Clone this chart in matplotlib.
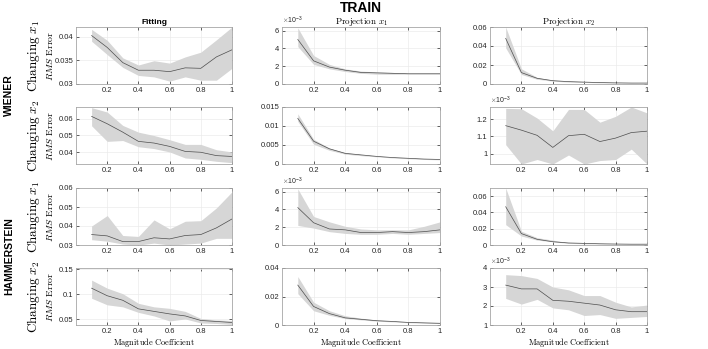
import numpy as np
import matplotlib.pyplot as plt
from matplotlib.ticker import FuncFormatter

plt.rcParams['font.family'] = ['Liberation Sans', 'DejaVu Sans']
plt.rcParams['mathtext.fontset'] = 'cm'

coef = [0.1, 0.2, 0.3, 0.4, 0.5, 0.6, 0.7, 0.8, 0.9, 1.0]

# each panel: mean, upper, lower (rows: Wiener x1, Wiener x2, Hammerstein x1, Hammerstein x2)
w1_fit_mean = [0.0402, 0.0377, 0.0345, 0.0329, 0.0329, 0.0326, 0.0334, 0.0333, 0.0357, 0.0372]
w1_fit_up = [0.0415, 0.0392, 0.0355, 0.0340, 0.0349, 0.0344, 0.0357, 0.0367, 0.0393, 0.0420]
w1_fit_lo = [0.0390, 0.0362, 0.0335, 0.0318, 0.0315, 0.0306, 0.0315, 0.0308, 0.0308, 0.0333]

w1_p1_mean = [5.0e-3, 2.6e-3, 1.9e-3, 1.55e-3, 1.3e-3, 1.25e-3, 1.2e-3, 1.15e-3, 1.15e-3, 1.15e-3]
w1_p1_up = [6.3e-3, 3.2e-3, 2.2e-3, 1.7e-3, 1.45e-3, 1.35e-3, 1.3e-3, 1.2e-3, 1.2e-3, 1.2e-3]
w1_p1_lo = [4.2e-3, 2.2e-3, 1.7e-3, 1.4e-3, 1.2e-3, 1.1e-3, 1.1e-3, 1.1e-3, 1.1e-3, 1.1e-3]

w1_p2_mean = [0.048, 0.012, 0.006, 0.0035, 0.0025, 0.002, 0.0015, 0.0012, 0.001, 0.001]
w1_p2_up = [0.060, 0.016, 0.007, 0.004, 0.003, 0.0025, 0.002, 0.0015, 0.0013, 0.0012]
w1_p2_lo = [0.038, 0.010, 0.005, 0.003, 0.002, 0.0017, 0.0012, 0.001, 0.0008, 0.0008]

w2_fit_mean = [0.0614, 0.0570, 0.0520, 0.0465, 0.0455, 0.0435, 0.0405, 0.0400, 0.0380, 0.0375]
w2_fit_up = [0.0666, 0.0640, 0.0560, 0.0520, 0.0500, 0.0475, 0.0447, 0.0447, 0.0415, 0.0402]
w2_fit_lo = [0.0558, 0.0465, 0.0470, 0.0433, 0.0422, 0.0402, 0.0366, 0.0358, 0.0346, 0.0338]

w2_p1_mean = [0.0120, 0.0060, 0.0040, 0.0028, 0.0024, 0.0020, 0.0017, 0.0015, 0.0013, 0.0012]
w2_p1_up = [0.0132, 0.0065, 0.0042, 0.0030, 0.0025, 0.0021, 0.0018, 0.0016, 0.0014, 0.0013]
w2_p1_lo = [0.0112, 0.0052, 0.0036, 0.0026, 0.0022, 0.0019, 0.0016, 0.0014, 0.0012, 0.0011]

w2_p2_mean = [1.162e-3, 1.136e-3, 1.106e-3, 1.036e-3, 1.104e-3, 1.112e-3, 1.070e-3, 1.090e-3, 1.122e-3, 1.130e-3]
w2_p2_up = [1.262e-3, 1.260e-3, 1.206e-3, 1.132e-3, 1.256e-3, 1.256e-3, 1.182e-3, 1.216e-3, 1.270e-3, 1.236e-3]
w2_p2_lo = [1.052e-3, 0.940e-3, 0.966e-3, 0.940e-3, 0.992e-3, 0.940e-3, 0.960e-3, 0.966e-3, 1.026e-3, 0.940e-3]

h1_fit_mean = [0.0355, 0.0348, 0.0318, 0.0318, 0.0338, 0.0332, 0.0350, 0.0355, 0.0390, 0.0437]
h1_fit_up = [0.0400, 0.0455, 0.0350, 0.0345, 0.0432, 0.0385, 0.0425, 0.0428, 0.0495, 0.0580]
h1_fit_lo = [0.0328, 0.0320, 0.0305, 0.0300, 0.0310, 0.0300, 0.0305, 0.0310, 0.0335, 0.0335]

h1_p1_mean = [4.2e-3, 2.5e-3, 1.8e-3, 1.7e-3, 1.4e-3, 1.4e-3, 1.5e-3, 1.4e-3, 1.5e-3, 1.7e-3]
h1_p1_up = [6.3e-3, 3.2e-3, 2.6e-3, 2.1e-3, 1.8e-3, 1.7e-3, 1.7e-3, 1.7e-3, 2.1e-3, 2.6e-3]
h1_p1_lo = [2.2e-3, 1.9e-3, 1.5e-3, 1.3e-3, 1.2e-3, 1.2e-3, 1.3e-3, 1.2e-3, 1.3e-3, 1.4e-3]

h1_p2_mean = [0.047, 0.014, 0.007, 0.004, 0.0025, 0.002, 0.0015, 0.0012, 0.001, 0.001]
h1_p2_up = [0.070, 0.017, 0.009, 0.006, 0.003, 0.0025, 0.002, 0.0015, 0.0013, 0.0012]
h1_p2_lo = [0.025, 0.011, 0.006, 0.004, 0.002, 0.0015, 0.0012, 0.001, 0.0008, 0.0008]

h2_fit_mean = [0.112, 0.097, 0.088, 0.071, 0.066, 0.061, 0.057, 0.048, 0.046, 0.044]
h2_fit_up = [0.128, 0.112, 0.101, 0.082, 0.075, 0.072, 0.066, 0.052, 0.049, 0.048]
h2_fit_lo = [0.092, 0.079, 0.075, 0.064, 0.057, 0.047, 0.051, 0.043, 0.042, 0.040]

h2_p1_mean = [0.028, 0.013, 0.008, 0.005, 0.004, 0.003, 0.0025, 0.0018, 0.0015, 0.0012]
h2_p1_up = [0.034, 0.016, 0.010, 0.0065, 0.0048, 0.0036, 0.0028, 0.0021, 0.0018, 0.0017]
h2_p1_lo = [0.022, 0.010, 0.0068, 0.0045, 0.0036, 0.0027, 0.0022, 0.0016, 0.0013, 0.0010]

h2_p2_mean = [3.1e-3, 2.9e-3, 2.9e-3, 2.3e-3, 2.25e-3, 2.15e-3, 2.05e-3, 1.8e-3, 1.7e-3, 1.7e-3]
h2_p2_up = [3.65e-3, 3.6e-3, 3.45e-3, 3.0e-3, 2.85e-3, 2.55e-3, 2.55e-3, 2.2e-3, 1.95e-3, 2.05e-3]
h2_p2_lo = [2.4e-3, 2.1e-3, 2.35e-3, 1.9e-3, 1.8e-3, 1.5e-3, 1.55e-3, 1.35e-3, 1.4e-3, 1.45e-3]

col_titles = ['Fitting', r'$\mathrm{Projection}\ x_1$', r'$\mathrm{Projection}\ x_2$']
row_labels = [r'$\mathrm{Changing}\ x_1$', r'$\mathrm{Changing}\ x_2$',
              r'$\mathrm{Changing}\ x_1$', r'$\mathrm{Changing}\ x_2$']
group_labels = ['WIENER', 'HAMMERSTEIN']

panels = [
    [(w1_fit_mean, w1_fit_up, w1_fit_lo), (w1_p1_mean, w1_p1_up, w1_p1_lo), (w1_p2_mean, w1_p2_up, w1_p2_lo)],
    [(w2_fit_mean, w2_fit_up, w2_fit_lo), (w2_p1_mean, w2_p1_up, w2_p1_lo), (w2_p2_mean, w2_p2_up, w2_p2_lo)],
    [(h1_fit_mean, h1_fit_up, h1_fit_lo), (h1_p1_mean, h1_p1_up, h1_p1_lo), (h1_p2_mean, h1_p2_up, h1_p2_lo)],
    [(h2_fit_mean, h2_fit_up, h2_fit_lo), (h2_p1_mean, h2_p1_up, h2_p1_lo), (h2_p2_mean, h2_p2_up, h2_p2_lo)],
]

# axis settings per panel: (ylim, yticks, scale)
axis_cfg = [
    [((0.03, 0.042), [0.03, 0.035, 0.04], 1), ((0, 6.4), [0, 2, 4, 6], 1e-3), ((0, 0.06), [0, 0.02, 0.04, 0.06], 1)],
    [((0.033, 0.067), [0.04, 0.05, 0.06], 1), ((0, 0.015), [0, 0.005, 0.01, 0.015], 1), ((0.94, 1.27), [1, 1.1, 1.2], 1e-3)],
    [((0.03, 0.06), [0.03, 0.04, 0.05, 0.06], 1), ((0, 6.4), [0, 2, 4, 6], 1e-3), ((0, 0.07), [0, 0.02, 0.04, 0.06], 1)],
    [((0.039, 0.152), [0.05, 0.1, 0.15], 1), ((0, 0.04), [0, 0.02, 0.04], 1), ((1, 4), [1, 2, 3, 4], 1e-3)],
]

W, H = 708, 349
fig = plt.figure(figsize=(W / 100, H / 100), dpi=100)

col_left = [76, 282, 490]
col_w = [156, 158, 157]
row_top = [27, 107, 188, 268]
row_h = 57

fmt = FuncFormatter(lambda v, p: '%g' % round(v, 6))
band_col = '#d6d6d6'
line_col = '#4d4d4d'
spine_col = '#a6a6a6'

for r in range(4):
    for c in range(3):
        rect = [col_left[c] / W, 1 - (row_top[r] + row_h) / H, col_w[c] / W, row_h / H]
        ax = fig.add_axes(rect)
        mean, up, lo = panels[r][c]
        ylim, yt, scale = axis_cfg[r][c]
        ax.fill_between(coef, np.array(lo) / scale, np.array(up) / scale,
                        color=band_col, linewidth=0)
        ax.plot(coef, np.array(mean) / scale, color=line_col, linewidth=0.5)
        ax.set_xlim(0, 1)
        ax.set_ylim(*ylim)
        ax.set_xticks([0.2, 0.4, 0.6, 0.8, 1])
        ax.set_yticks(yt)
        ax.xaxis.set_major_formatter(fmt)
        ax.yaxis.set_major_formatter(fmt)
        ax.grid(True, color='#ebebeb', linewidth=0.5)
        ax.set_axisbelow(True)
        ax.tick_params(direction='in', length=2, width=0.5, labelsize=5.5,
                       colors='#262626', top=True, right=True, pad=2)
        for s in ax.spines.values():
            s.set_color(spine_col)
            s.set_linewidth(0.6)
        if scale != 1:
            ax.text(0, 1.02, r'$\times\mathregular{10^{-3}}$', transform=ax.transAxes,
                    fontsize=5, color='#262626', ha='left', va='bottom',
                    family='Liberation Sans')
        if r == 0:
            if c == 0:
                ax.set_title(col_titles[c], fontsize=6, fontweight='bold', pad=2)
            else:
                ax.set_title(col_titles[c], fontsize=6.5, pad=2)
        if r == 3:
            ax.set_xlabel(r'$\mathrm{Magnitude\ Coefficient}$', fontsize=6, labelpad=1)

    yc = 1 - (row_top[r] + row_h / 2) / H
    fig.text(33 / W, yc, row_labels[r], rotation=90, fontsize=9.5, ha='center', va='center')
    fig.text(50 / W, yc, r'$RMS\ \mathrm{Error}$', rotation=90, fontsize=7,
             ha='center', va='center')

fig.text(9 / W, 1 - (row_top[0] + row_top[1] + row_h) / 2 / H, group_labels[0],
         rotation=90, fontsize=7.5, fontweight='bold', ha='center', va='center')
fig.text(9 / W, 1 - (row_top[2] + row_top[3] + row_h) / 2 / H, group_labels[1],
         rotation=90, fontsize=7.5, fontweight='bold', ha='center', va='center')
fig.text(361 / W, 1 - 8 / H, 'TRAIN', fontsize=10, fontweight='bold', ha='center', va='center')

fig.savefig('out.png', dpi=100)
